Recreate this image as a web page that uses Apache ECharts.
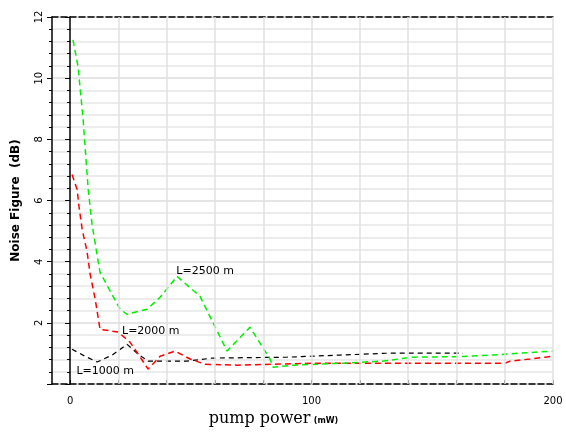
<!DOCTYPE html>
<html>
<head>
<meta charset="utf-8">
<script src="https://cdn.jsdelivr.net/npm/echarts@6/dist/echarts.min.js"></script>
<style>html,body{margin:0;padding:0;background:#fff}#c{width:566px;height:432px}</style>
</head>
<body>
<div id="c"></div>
<script>
// ---- data (pump power mW, noise figure dB) ----
const green2500 = [[1.2,11.25],[3.3,10.37],[5.4,8.64],[7.5,6.36],[9.1,5.22],[12.4,3.65],[20.7,2.45],[23.6,2.28],[31.9,2.45],[37.3,2.84],[44.3,3.52],[53.8,2.87],[65,1.08],[74.5,1.86],[82.8,0.82],[84.1,0.55],[92.3,0.62],[111.8,0.68],[129.2,0.75],[142,0.88],[162.7,0.9],[175,0.95],[186.3,1.01],[200,1.08]];
const red2000 = [[0.8,6.85],[2.9,6.36],[3.7,5.8],[5,5.05],[7,4.34],[8.3,3.59],[10.4,2.77],[12.4,1.79],[19.9,1.7],[24.8,1.37],[27.7,1.04],[32.3,0.49],[37.3,0.91],[43.5,1.08],[49.7,0.82],[55.9,0.65],[69.2,0.62],[100.6,0.68],[180.1,0.68],[182.2,0.75],[190.5,0.82],[196.7,0.88],[200,0.91]];
const black1000 = [[0.8,1.14],[6.2,0.91],[11.2,0.72],[17.4,0.95],[23.6,1.3],[28.2,0.98],[32.3,0.75],[48.4,0.75],[58.8,0.85],[89.9,0.88],[111.8,0.95],[131.7,1.01],[162.7,1.01]];
const labels = [
  {text:'L=2500 m', coord:[44.0,3.68]},
  {text:'L=2000 m', coord:[21.5,1.73]},
  {text:'L=1000 m', coord:[2.6,0.42]}
];
const xTicks = [0,20,40,60,80,100,120,140,160,180,200];
const xTickLabels = [0,100,200];
const xGrid = [20,40,60,80,100,120,140,160,180,200];

const chart = echarts.init(document.getElementById('c'), null, {renderer:'canvas'});
const yBase = {
  type:'value', min:0, max:12, interval:2,
  minorTick:{show:true, splitNumber:5, length:3, lineStyle:{color:'#000'}},
  axisTick:{show:true, length:5, lineStyle:{color:'#000', width:1}}
};
chart.setOption({
  animation:false,
  grid:{left:52, right:13, top:17, bottom:47, containLabel:false},
  xAxis:[{
    type:'value', min:-7.5, max:200,
    axisLine:{show:true, onZero:false, lineStyle:{color:'#000', type:'dashed', width:1.5}},
    axisTick:{show:true, customValues:xTicks, length:4, inside:true, lineStyle:{color:'#000'}},
    axisLabel:{show:true, customValues:xTickLabels, color:'#000', fontSize:10, fontFamily:'DejaVu Sans', margin:12},
    splitLine:{show:false},
    name:'{a|pump power} {b|(mW)}', nameLocation:'middle', nameGap:25,
    nameTextStyle:{padding:[0,58,0,0], rich:{a:{fontFamily:'DejaVu Serif', fontSize:16, color:'#000'}, b:{fontFamily:'DejaVu Sans', fontWeight:'bold', fontSize:8, color:'#000', padding:[4,0,0,0]}}}
  },{
    type:'value', min:-7.5, max:200, position:'top',
    axisLine:{show:true, onZero:false, lineStyle:{color:'#000', type:'dashed', width:1.5}},
    axisTick:{show:false}, axisLabel:{show:false}, splitLine:{show:false}
  }],
  yAxis:[Object.assign({}, yBase, {
    position:'left',
    axisLine:{show:true, onZero:false, lineStyle:{color:'#000', width:1.5}},
    axisLabel:{show:true, rotate:90, color:'#000', fontSize:10, fontFamily:'DejaVu Sans', margin:8,
      formatter:v => v === 0 ? '' : String(v)},
    splitLine:{show:true, lineStyle:{color:'#dcdcdc', width:1.5}},
    minorSplitLine:{show:true, lineStyle:{color:'#e6e6e6', width:1.5}},
    name:'Noise Figure  (dB)', nameLocation:'middle', nameGap:30,
    nameTextStyle:{fontFamily:'DejaVu Sans', fontWeight:'bold', fontSize:12, color:'#000'}
  }), Object.assign({}, yBase, {
    position:'left',
    axisLine:{show:true, onZero:true, lineStyle:{color:'#000', width:1.5}},
    axisLabel:{show:false}, splitLine:{show:false}
  })],
  series:[
    {
      type:'line', name:'grid', data:[], silent:true,
      markLine:{silent:true, symbol:'none', label:{show:false},
        lineStyle:{color:'#e0e0e0', type:'solid', width:1.5},
        data:xGrid.map(v => ({xAxis:v}))}
    },
    {
      type:'line', name:'L=1000 m', data:black1000, showSymbol:false,
      lineStyle:{color:'#000', width:1.2, type:[5,4]},
      markPoint:{symbolSize:0, data:[{coord:labels[2].coord, value:labels[2].text}],
        label:{show:true, position:'right', distance:0, formatter:p => p.value, color:'#000', fontSize:11, fontFamily:'DejaVu Sans'}}
    },
    {
      type:'line', name:'L=2000 m', data:red2000, showSymbol:false,
      lineStyle:{color:'#ff0000', width:1.5, type:[6,4]},
      markPoint:{symbolSize:0, data:[{coord:labels[1].coord, value:labels[1].text}],
        label:{show:true, position:'right', distance:0, formatter:p => p.value, color:'#000', fontSize:11, fontFamily:'DejaVu Sans'}}
    },
    {
      type:'line', name:'L=2500 m', data:green2500, showSymbol:false,
      lineStyle:{color:'#00ee00', width:1.5, type:[6,4]},
      markPoint:{symbolSize:0, data:[{coord:labels[0].coord, value:labels[0].text}],
        label:{show:true, position:'right', distance:0, formatter:p => p.value, color:'#000', fontSize:11, fontFamily:'DejaVu Sans'}}
    }
  ]
});
</script>
</body>
</html>
